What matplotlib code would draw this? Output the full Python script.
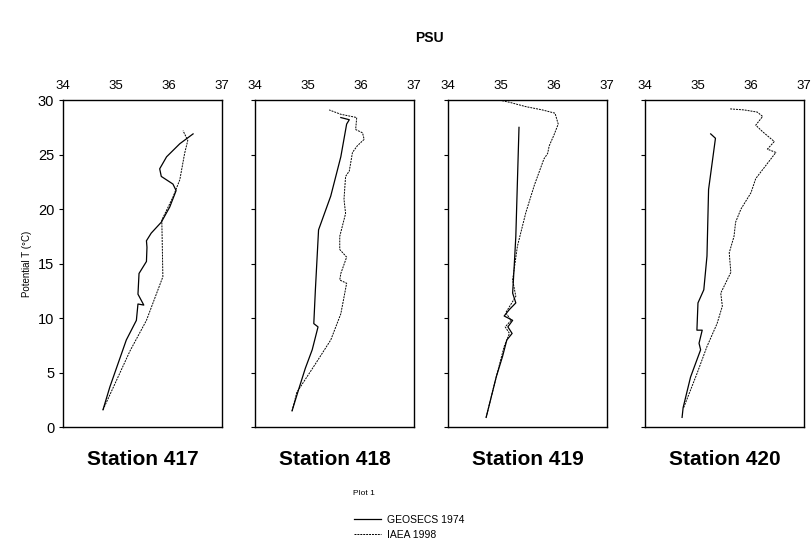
import numpy as np
import matplotlib
matplotlib.use("Agg")
import matplotlib.pyplot as plt

plt.rcParams['font.family'] = ['Liberation Sans', 'DejaVu Sans']

stations = ["Station 417", "Station 418", "Station 419", "Station 420"]

# GEOSECS 1974 profiles (salinity PSU, potential T degC)
geo_s = [
    [34.75, 34.88, 35.19, 35.38, 35.41, 35.52, 35.41, 35.43, 35.57, 35.58, 35.57, 35.66,
     35.85, 36.01, 36.13, 36.07, 35.85, 35.82, 35.95, 36.20, 36.45],
    [34.70, 34.82, 34.95, 35.08, 35.19, 35.11, 35.14, 35.20, 35.43, 35.62, 35.73, 35.78, 35.62],
    [34.72, 34.91, 35.03, 35.11, 35.21, 35.13, 35.22, 35.06, 35.16, 35.28, 35.22, 35.25,
     35.28, 35.34],
    [34.70, 34.72, 34.86, 35.05, 35.02, 35.08, 34.98, 35.00, 35.11, 35.17, 35.20, 35.33, 35.24],
]
geo_t = [
    [1.6, 3.7, 8.0, 9.8, 11.3, 11.2, 12.2, 14.1, 15.2, 16.5, 17.1, 17.8,
     18.8, 20.2, 21.7, 22.3, 23.0, 23.7, 24.8, 26.0, 26.9],
    [1.5, 3.4, 5.4, 7.1, 9.2, 9.5, 12.6, 18.1, 21.2, 24.8, 27.8, 28.2, 28.4],
    [0.9, 4.6, 6.5, 8.0, 8.6, 9.2, 9.8, 10.2, 10.8, 11.4, 12.3, 14.8, 17.5, 27.5],
    [0.9, 1.8, 4.6, 7.1, 7.7, 8.9, 8.9, 11.4, 12.6, 15.7, 21.8, 26.5, 26.9],
]

# IAEA 1998 profiles
iaea_s = [
    [34.75, 35.26, 35.57, 35.88, 35.86, 36.07, 36.20, 36.29, 36.35, 36.26],
    [34.70, 34.79, 35.14, 35.43, 35.62, 35.73, 35.60, 35.62, 35.73, 35.60, 35.60, 35.71,
     35.68, 35.71, 35.78, 35.84, 35.93, 36.06, 36.03, 35.90, 35.92, 35.62, 35.40],
    [34.72, 34.91, 35.06, 35.16, 35.08, 35.19, 35.09, 35.28, 35.22, 35.31, 35.47, 35.63,
     35.81, 35.88, 35.91, 36.00, 36.08, 36.02, 35.78, 35.47, 35.16, 34.97],
    [34.73, 34.98, 35.17, 35.36, 35.46, 35.43, 35.55, 35.62, 35.59, 35.68, 35.71, 35.81,
     36.00, 36.09, 36.28, 36.47, 36.31, 36.44, 36.22, 36.09, 36.22, 36.12, 35.87, 35.59],
]
iaea_t = [
    [1.6, 7.0, 9.8, 13.8, 19.0, 21.1, 22.7, 25.1, 26.3, 27.2],
    [1.5, 3.2, 5.8, 8.0, 10.4, 13.2, 13.5, 14.1, 15.6, 16.3, 17.5, 19.6,
     20.9, 23.0, 23.5, 25.2, 25.8, 26.4, 27.0, 27.3, 28.4, 28.7, 29.1],
    [0.9, 4.6, 7.4, 8.6, 9.2, 9.8, 10.5, 12.0, 13.5, 16.6, 19.7, 22.2,
     24.6, 25.1, 25.8, 26.8, 27.8, 28.8, 29.1, 29.4, 29.8, 30.0],
    [1.8, 4.9, 7.4, 9.5, 11.1, 12.3, 13.5, 14.2, 16.0, 17.5, 18.8, 20.0,
     21.5, 22.8, 24.0, 25.2, 25.5, 26.2, 27.1, 27.7, 28.5, 28.9, 29.1, 29.2],
]

fig = plt.figure(figsize=(8.11, 5.47), dpi=100)
lefts = [0.078, 0.3144, 0.5524, 0.7953]
w, b, h = 0.196, 0.219, 0.598

for i in range(4):
    ax = fig.add_axes([lefts[i], b, w, h])
    l1, = ax.plot(geo_s[i], geo_t[i], color='black', lw=0.9)
    l2, = ax.plot(iaea_s[i], iaea_t[i], color='black', lw=0.7, linestyle=(0, (2, 1)))
    ax.set_xlim(34, 37)
    ax.set_ylim(0, 30)
    ax.set_xticks([34, 35, 36, 37])
    ax.set_yticks([0, 5, 10, 15, 20, 25, 30])
    ax.xaxis.tick_top()
    ax.tick_params(axis='x', length=0, labelsize=9.5, pad=6)
    ax.tick_params(axis='y', length=3, direction='out', labelsize=10.5)
    for sp in ax.spines.values():
        sp.set_linewidth(1.0)
    if i == 0:
        ax.set_ylabel("Potential T (°C)", fontsize=7)
    else:
        ax.set_yticklabels([])
    ax.text(0.5, -0.1, stations[i], transform=ax.transAxes, ha='center', va='center',
            fontsize=15, fontweight='bold')

fig.text(0.53, 0.93, "PSU", ha='center', va='center', fontsize=10, fontweight='bold')
fig.text(0.435, 0.097, "Plot 1", ha='left', va='center', fontsize=6)
fig.legend([l1, l2], ["GEOSECS 1974", "IAEA 1998"], loc='upper left',
           bbox_to_anchor=(0.43, 0.068), frameon=False, fontsize=7.5,
           handlelength=2.6, handletextpad=0.6, labelspacing=0.45, borderpad=0)

fig.savefig("out.png", dpi=100)
